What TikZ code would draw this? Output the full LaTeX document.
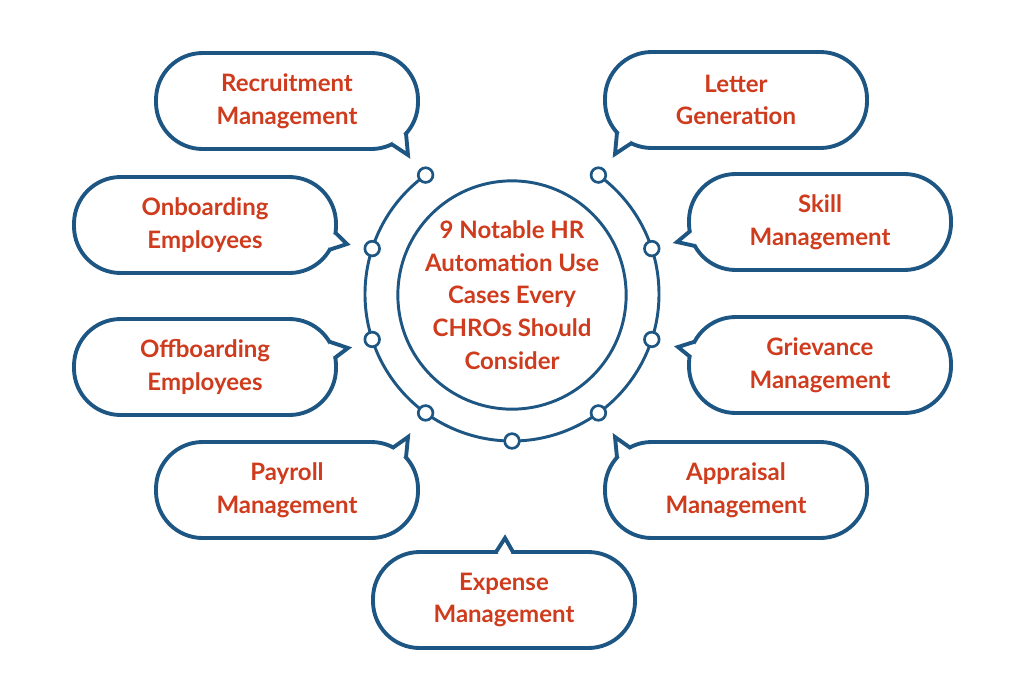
\documentclass[tikz,border=0pt]{standalone}
\usepackage{fontspec}
\setmainfont{Lato}
\usetikzlibrary{calc}
\definecolor{hrblue}{HTML}{1D5583}
\definecolor{hrred}{HTML}{CF3B1D}
% tail on a rounded part of a bubble:
% #1 node, #2/#3 corner-arc centre offset, #4/#5 border angles, #6 tip offset
\newcommand{\tailat}[6]{%
  \fill[white] ($(#1)+(#2,#3)+(#4:35pt)$) -- ($(#1)+#6$) -- ($(#1)+(#2,#3)+(#5:35pt)$)
     -- ($(#1)+(#2,#3)+({(#4+#5)/2}:30pt)$) -- cycle;
  \draw[tailline] ($(#1)+(#2,#3)+(#4:35pt)$) -- ($(#1)+#6$) -- ($(#1)+(#2,#3)+(#5:35pt)$);}
\begin{document}
\begin{tikzpicture}[x=0.75pt,y=0.75pt,
  lbl/.style={text=hrred, font=\fontsize{18}{24.5}\selectfont\bfseries, align=center},
  bubble/.style={lbl, draw=hrblue, line width=2.9pt, fill=white, rounded corners=35pt,
    minimum width=196.5pt, minimum height=72pt, inner sep=0pt},
  tailline/.style={draw=hrblue, line width=2.9pt, line join=miter, line cap=round},
  dot/.style={circle, draw=hrblue, line width=2pt, fill=white, minimum size=11pt, inner sep=0pt},
  ring/.style={draw=hrblue, line width=2.2pt}]
\useasboundingbox (0,0) rectangle (1024,-683);
\fill[white] (0,0) rectangle (1024,-683);

% outer arc with dots
\coordinate (o) at (512,-294);
\draw[ring] ($(o)+(126:110.25pt)$) arc[start angle=126, end angle=414, radius=110.25pt];
\foreach \a [count=\i] in {126,162,198,234,270,306,342,378,414}
  \node[dot] (d\i) at ($(o)+(\a:110.25pt)$) {};

% hub
\node[ring, circle, minimum size=169.5pt, inner sep=0pt, lbl,
  font=\fontsize{18}{24.6}\selectfont\bfseries] (hub) at (512,-295)
  {9 Notable HR\\Automation Use\\Cases Every\\CHROs Should\\Consider};

% bubbles
\node[bubble] (recruit) at (287,-101) {Recruitment\\Management};
\node[bubble] (letter) at (736,-100) {Letter\\Generation};
\node[bubble] (onboard) at (205,-225) {Onboarding\\Employees};
\node[bubble] (skill) at (820,-222) {Skill\\Management};
\node[bubble] (offboard) at (205,-367) {Offboarding\\Employees};
\node[bubble] (griev) at (820,-365) {Grievance\\Management};
\node[bubble] (payroll) at (287,-490) {Payroll\\Management};
\node[bubble] (apprais) at (736,-490) {Appraisal\\Management};
\node[bubble] (expense) at (504,-600) {Expense\\Management};

% tails
\tailat{recruit}{84.33}{-1.33}{-42}{-64}{(121,-54)}
\tailat{letter}{-84.33}{-1.33}{-138}{-116}{(-121,-54)}
\tailat{onboard}{84.33}{-1.33}{-8}{-30}{(142,-19)}
\tailat{skill}{-84.33}{-1.33}{-170}{-151}{(-143,-20)}
\tailat{offboard}{84.33}{1.33}{31}{10}{(143,19)}
\tailat{griev}{-84.33}{1.33}{152}{171}{(-142,18)}
\tailat{payroll}{84.33}{1.33}{62}{42}{(121,53)}
\tailat{apprais}{-84.33}{1.33}{118}{138}{(-121,53)}
\fill[white] ($(expense)+(-8,48)$) -- ($(expense)+(1,62)$) -- ($(expense)+(9,48)$)
  -- ($(expense)+(1,42)$) -- cycle;
\draw[tailline] ($(expense)+(-8,48)$) -- ($(expense)+(1,62)$) -- ($(expense)+(9,48)$);
\end{tikzpicture}
\end{document}
